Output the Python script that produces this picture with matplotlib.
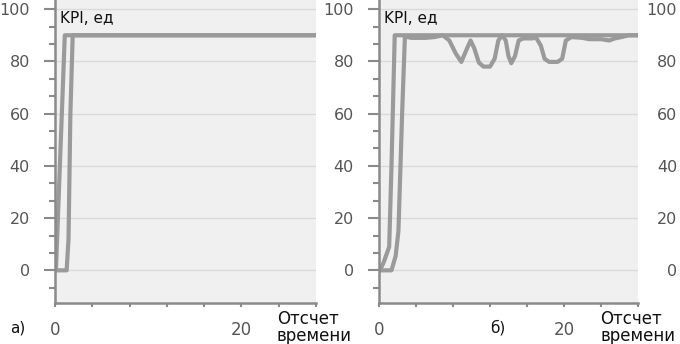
import matplotlib.pyplot as plt
from matplotlib.ticker import MultipleLocator, FixedLocator

# панель а)
ax_a1 = [0, 0.1, 1.05, 28]
ay_a1 = [0, 0, 90, 90]
ax_a2 = [0, 1.25, 1.45, 1.65, 1.9, 28]
ay_a2 = [0, 0, 12, 60, 90, 90]

# панель б)
bx_1 = [0, 0.1, 0.5, 1.1, 1.35, 1.7, 28]
by_1 = [0, 0, 3, 9, 40, 90, 90]
bx_2 = [0, 1.35, 1.8, 2.1, 2.5, 2.8, 3.5, 5, 6, 6.9, 7.6, 8.3, 8.9, 9.4, 9.9,
        10.3, 10.8, 11.3, 12.0, 12.5, 12.9, 13.3, 13.7, 14.0, 14.3, 14.7, 15.1,
        15.6, 16.5, 17.0, 17.5, 17.9, 18.4, 19.3, 19.8, 20.2, 20.8, 22.0, 22.7,
        24.0, 24.9, 25.5, 26.2, 27, 28]
by_2 = [0, 0, 5.5, 15, 60, 89.5, 89, 89, 89.3, 90, 88, 83, 79.8, 84, 88,
        85, 79.5, 78, 78, 81, 88, 90, 88, 82, 79.3, 82, 88,
        88.8, 88.8, 89, 86, 81, 79.8, 79.8, 81, 88, 89.3, 89, 88.5,
        88.5, 88, 88.8, 89.3, 90, 90]

yticks = [0, 20, 40, 60, 80, 100]
xticks = [0, 20]

W, H = 680, 344
fig = plt.figure(figsize=(6.8, 3.44), dpi=100)
lab_col = '#555555'
line_col = '#9a9a9a'


def setup(ax):
    ax.set_facecolor('#f0f0f0')
    ax.set_xlim(0, 28)
    ax.set_ylim(-12.5, 103.5)
    ax.yaxis.set_major_locator(FixedLocator(yticks))
    ax.yaxis.set_minor_locator(MultipleLocator(20 / 3))
    ax.xaxis.set_major_locator(FixedLocator(xticks))
    ax.xaxis.set_minor_locator(MultipleLocator(4))
    for s in ['top', 'right']:
        ax.spines[s].set_visible(False)
    for s in ['left', 'bottom']:
        ax.spines[s].set_color('#8a8a8a')
        ax.spines[s].set_linewidth(1.8)
    ax.tick_params(axis='y', which='major', length=8, width=1.5, color='#8a8a8a',
                   pad=10, labelsize=11.5, labelcolor=lab_col)
    ax.tick_params(axis='y', which='minor', length=4, width=1.5, color='#8a8a8a')
    ax.tick_params(axis='x', which='both', length=3, width=1.5, color='#8a8a8a',
                   pad=10, labelsize=12, labelcolor=lab_col)
    ax.grid(axis='y', which='major', color='#dadada', linewidth=1)
    ax.set_axisbelow(True)


axa = fig.add_axes([55 / W, 1 - 303 / H, 261 / W, 303 / H])
setup(axa)
axa.plot(ax_a1, ay_a1, color=line_col, lw=3)
axa.plot(ax_a2, ay_a2, color=line_col, lw=3)
axa.text(0.02, 0.94, 'KPI, ед', transform=axa.transAxes, fontsize=11,
         va='center', ha='left', color='#111111')

axb = fig.add_axes([379 / W, 1 - 303 / H, 259 / W, 303 / H])
setup(axb)
axb.plot(bx_1, by_1, color=line_col, lw=3)
axb.plot(bx_2, by_2, color=line_col, lw=3)
axb.text(0.02, 0.94, 'KPI, ед', transform=axb.transAxes, fontsize=11,
         va='center', ha='left', color='#111111')

# третья панель обрезана справа, видны только подписи оси
axc = fig.add_axes([702 / W, 1 - 303 / H, 200 / W, 303 / H])
setup(axc)
axc.set_xticks([])
axc.xaxis.set_minor_locator(FixedLocator([]))

fig.text(277 / W, 1 - 310 / H, 'Отсчет\nвремени', fontsize=12, va='top',
         ha='left', linespacing=0.95, color='#111111')
fig.text(600 / W, 1 - 310 / H, 'Отсчет\nвремени', fontsize=12, va='top',
         ha='left', linespacing=0.95, color='#111111')
fig.text(10 / W, 1 - 328 / H, 'а)', fontsize=11, va='center', ha='left', color='#111111')
fig.text(490 / W, 1 - 328 / H, 'б)', fontsize=11, va='center', ha='left', color='#111111')

fig.savefig('out.png', dpi=100)
